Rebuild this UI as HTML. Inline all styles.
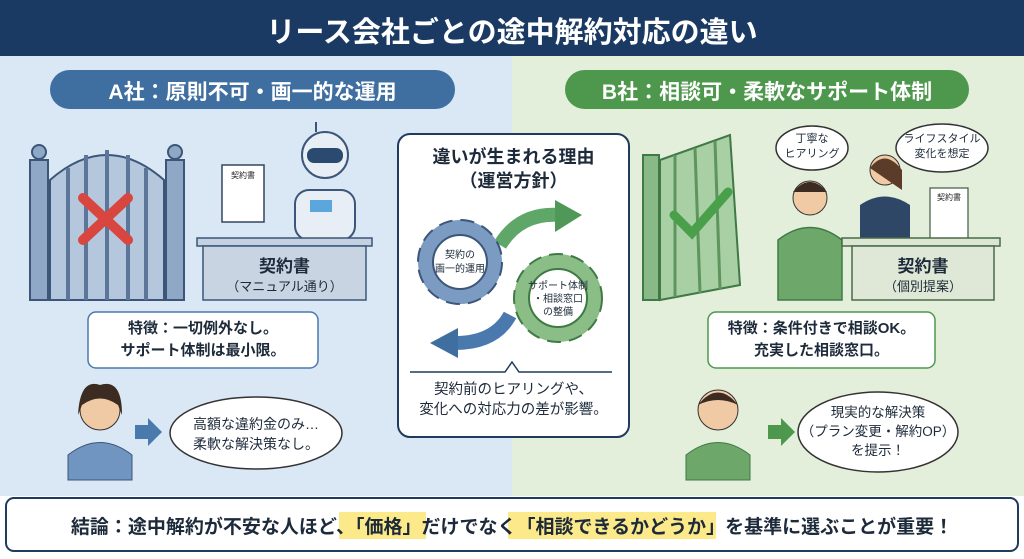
<!DOCTYPE html>
<html><head><meta charset="utf-8"><style>
*{margin:0;padding:0;box-sizing:border-box}
body{width:1024px;height:559px;overflow:hidden;background:#fff;font-family:"Liberation Sans","Noto Sans CJK JP",sans-serif;position:relative}
.a{position:absolute}
.t{position:absolute;text-align:center;white-space:nowrap;color:#1d2a3a;font-weight:bold}
</style></head><body>
<div class="a" style="left:0;top:0;width:1024px;height:56px;background:#1b3a63"></div>
<div class="t" style="left:0;top:9px;width:1024px;font-size:29px;color:#fff">リース会社ごとの途中解約対応の違い</div>
<div class="a" style="left:0;top:56px;width:512px;height:440px;background:#dae7f4"></div>
<div class="a" style="left:512px;top:56px;width:512px;height:440px;background:#e3efdb"></div>
<div class="a" style="left:50px;top:70px;width:405px;height:39px;border-radius:20px;background:#3f6fa0"></div>
<div class="t" style="left:50px;top:76px;width:405px;font-size:21px;color:#fff">A社：原則不可・画一的な運用</div>
<div class="a" style="left:565px;top:70px;width:404px;height:39px;border-radius:20px;background:#4e984e"></div>
<div class="t" style="left:565px;top:76px;width:404px;font-size:21px;color:#fff">B社：相談可・柔軟なサポート体制</div>

<svg class="a" style="left:0;top:0" width="1024" height="559">
<!-- left gate -->
<g fill="#8fa8c6" stroke="#3b5678" stroke-width="2">
<rect x="30" y="160" width="18" height="140"/><rect x="166" y="160" width="18" height="140"/>
<circle cx="39" cy="152" r="7"/><circle cx="175" cy="152" r="7"/>
<path d="M50 300 V180 Q107 130 164 180 V300 Z" fill="#b5c7dd"/>
</g>
<g stroke="#5b7698" stroke-width="4"><line x1="68" y1="168" x2="68" y2="300"/><line x1="86" y1="155" x2="86" y2="300"/><line x1="107" y1="150" x2="107" y2="300"/><line x1="128" y1="155" x2="128" y2="300"/><line x1="146" y1="168" x2="146" y2="300"/></g>
<g stroke="#d9453f" stroke-width="10" stroke-linecap="round"><line x1="83" y1="198" x2="128" y2="240"/><line x1="128" y1="198" x2="83" y2="240"/></g>
<!-- robot -->
<rect x="222" y="165" width="42" height="57" fill="#fff" stroke="#33465e" stroke-width="1.5"/>
<text x="243" y="178" font-size="8" text-anchor="middle" fill="#222">契約書</text>
<circle cx="325" cy="155" r="23" fill="#e8eef5" stroke="#3b5678" stroke-width="2"/>
<rect x="307" y="148" width="36" height="15" rx="7" fill="#2b4a6f"/>
<rect x="295" y="190" width="60" height="50" rx="14" fill="#e8eef5" stroke="#3b5678" stroke-width="2"/>
<rect x="310" y="200" width="22" height="12" fill="#5aa6dd"/>
<line x1="316" y1="132" x2="316" y2="122" stroke="#3b5678" stroke-width="2"/>
<!-- left desk -->
<rect x="197" y="238" width="175" height="8" fill="#c3d1e2" stroke="#3b5678" stroke-width="1.5"/>
<rect x="203" y="246" width="163" height="54" fill="#c9d4e2" stroke="#3b5678" stroke-width="1.5"/>
<!-- center box -->
<rect x="398" y="134" width="231" height="303" rx="12" fill="#fff" stroke="#1f3b5d" stroke-width="2"/>
<path d="M500 245 Q520 212 560 215" stroke="#5fa768" stroke-width="14" fill="none"/><path d="M555 200 L582 215 L555 232 Z" fill="#4f9858"/>
<path d="M510 315 Q495 343 455 343" stroke="#4a79ad" stroke-width="14" fill="none"/><path d="M458 328 L430 343 L458 358 Z" fill="#3f6fa0"/>
<g transform="translate(460,262)"><circle r="42" fill="#7b9bc2" stroke="#3b5678" stroke-width="2" stroke-dasharray="14 8"/><circle r="34" fill="#7b9bc2"/><circle r="27" fill="#fff" stroke="#3b5678" stroke-width="2"/></g>
<g transform="translate(558,298)"><circle r="44" fill="#8bbd87" stroke="#3f7a45" stroke-width="2" stroke-dasharray="14 8"/><circle r="36" fill="#8bbd87"/><circle r="29" fill="#fff" stroke="#3f7a45" stroke-width="2"/></g>
<path d="M410 372 H505 L512 362 L519 372 H612" stroke="#1f3b5d" stroke-width="1.5" fill="none"/>
<!-- right gate -->
<rect x="643" y="155" width="16" height="145" fill="#8ab988" stroke="#3f7a45" stroke-width="2"/>
<path d="M660 160 L730 135 L740 285 L660 300 Z" fill="#a9cfa4" stroke="#3f7a45" stroke-width="2"/>
<g stroke="#5e955d" stroke-width="3"><line x1="675" y1="155" x2="675" y2="297"/><line x1="695" y1="148" x2="700" y2="293"/><line x1="715" y1="141" x2="720" y2="289"/></g>
<path d="M674 215 L692 233 L728 192" stroke="#4aa04a" stroke-width="9" fill="none" stroke-linecap="round"/>
<!-- right people -->
<circle cx="810" cy="198" r="17" fill="#f0c9a5" stroke="#333"/><path d="M793 192 Q810 172 827 192" fill="#3b2b20"/>
<path d="M778 300 V240 Q810 215 842 240 V300 Z" fill="#6da86a" stroke="#3f7a45" stroke-width="1.5"/>
<circle cx="885" cy="170" r="15" fill="#f0c9a5" stroke="#333"/><path d="M870 168 Q885 148 902 170 L902 190 Z" fill="#5a3c28"/>
<path d="M860 240 V205 Q885 188 910 205 V240 Z" fill="#2e4766"/>
<rect x="930" y="188" width="38" height="52" fill="#fff" stroke="#3f5a40" stroke-width="1.2"/>
<text x="949" y="200" font-size="8" text-anchor="middle" fill="#222">契約書</text>
<rect x="842" y="238" width="158" height="8" fill="#dbe6d3" stroke="#4a6a48" stroke-width="1.5"/>
<rect x="852" y="246" width="142" height="54" fill="#dfe8d6" stroke="#4a6a48" stroke-width="1.5"/>
<!-- speech bubbles top right -->
<ellipse cx="812" cy="148" rx="36" ry="22" fill="#fff" stroke="#333" stroke-width="1.5"/>
<ellipse cx="942" cy="148" rx="46" ry="24" fill="#fff" stroke="#333" stroke-width="1.5"/>
<!-- features boxes -->
<rect x="88" y="312" width="230" height="56" rx="8" fill="#fff" stroke="#4a79ad" stroke-width="1.5"/>
<rect x="708" y="312" width="227" height="56" rx="8" fill="#fff" stroke="#4e984e" stroke-width="1.5"/>
<!-- left person -->
<circle cx="100" cy="410" r="20" fill="#f0c9a5" stroke="#333"/><path d="M78 415 Q80 378 100 385 Q122 378 122 415 L118 405 Q100 392 82 405 Z" fill="#3b2b20"/>
<path d="M68 480 V455 Q100 430 132 455 V480 Z" fill="#6f95c0" stroke="#3b5678"/>
<path d="M135 425 H148 V418 L162 432 L148 446 V439 H135 Z" fill="#4a79ad"/>
<ellipse cx="256" cy="433" rx="86" ry="36" fill="#fff" stroke="#333" stroke-width="1.5"/>
<!-- right person -->
<circle cx="718" cy="410" r="20" fill="#f0c9a5" stroke="#333"/><path d="M698 405 Q718 380 738 405 Q718 395 698 405Z" fill="#3b2b20"/>
<path d="M686 480 V455 Q718 430 750 455 V480 Z" fill="#6da86a" stroke="#3f7a45"/>
<path d="M768 425 H781 V418 L795 432 L781 446 V439 H768 Z" fill="#4e984e"/>
<ellipse cx="878" cy="432" rx="80" ry="40" fill="#fff" stroke="#333" stroke-width="1.5"/>
<!-- bottom -->
<rect x="6" y="498" width="1012" height="53" rx="8" fill="#fff" stroke="#1f3b5d" stroke-width="2"/>
<rect x="339" y="512" width="87" height="27" fill="#fbe98a"/>
<rect x="508" y="512" width="208" height="27" fill="#fbe98a"/>
</svg>

<div class="t" style="left:203px;top:252px;width:163px;font-size:17px">契約書</div>
<div class="t" style="left:203px;top:276px;width:163px;font-size:13px;font-weight:normal">（マニュアル通り）</div>
<div class="t" style="left:852px;top:252px;width:142px;font-size:17px">契約書</div>
<div class="t" style="left:852px;top:276px;width:142px;font-size:13px;font-weight:normal">（個別提案）</div>
<div class="t" style="left:398px;top:145px;width:231px;font-size:18px;line-height:24px">違いが生まれる理由<br>（運営方針）</div>
<div class="t" style="left:430px;top:249px;width:60px;font-size:10px;line-height:14px;font-weight:normal">契約の<br>画一的運用</div>
<div class="t" style="left:523px;top:280px;width:70px;font-size:10px;line-height:13px;font-weight:normal">サポート体制<br>・相談窓口<br>の整備</div>
<div class="t" style="left:398px;top:380px;width:231px;font-size:14.5px;line-height:20px;font-weight:normal">契約前のヒアリングや、<br>変化への対応力の差が影響。</div>
<div class="t" style="left:88px;top:318px;width:230px;font-size:15px;line-height:22px">特徴：一切例外なし。<br>サポート体制は最小限。</div>
<div class="t" style="left:708px;top:318px;width:227px;font-size:15px;line-height:22px">特徴：条件付きで相談OK。<br>充実した相談窓口。</div>
<div class="t" style="left:170px;top:414px;width:172px;font-size:14px;line-height:20px;font-weight:normal">高額な違約金のみ…<br>柔軟な解決策なし。</div>
<div class="t" style="left:798px;top:403px;width:160px;font-size:13.5px;line-height:19px;font-weight:normal">現実的な解決策<br>（プラン変更・解約OP）<br>を提示！</div>
<div class="t" style="left:776px;top:132px;width:72px;font-size:11px;line-height:15px;font-weight:normal">丁寧な<br>ヒアリング</div>
<div class="t" style="left:896px;top:132px;width:92px;font-size:11px;line-height:15px;font-weight:normal">ライフスタイル<br>変化を想定</div>
<div class="t" style="left:6px;top:512px;width:1012px;font-size:19px">結論：途中解約が不安な人ほど、「価格」だけでなく「相談できるかどうか」を基準に選ぶことが重要！</div>
</body></html>
